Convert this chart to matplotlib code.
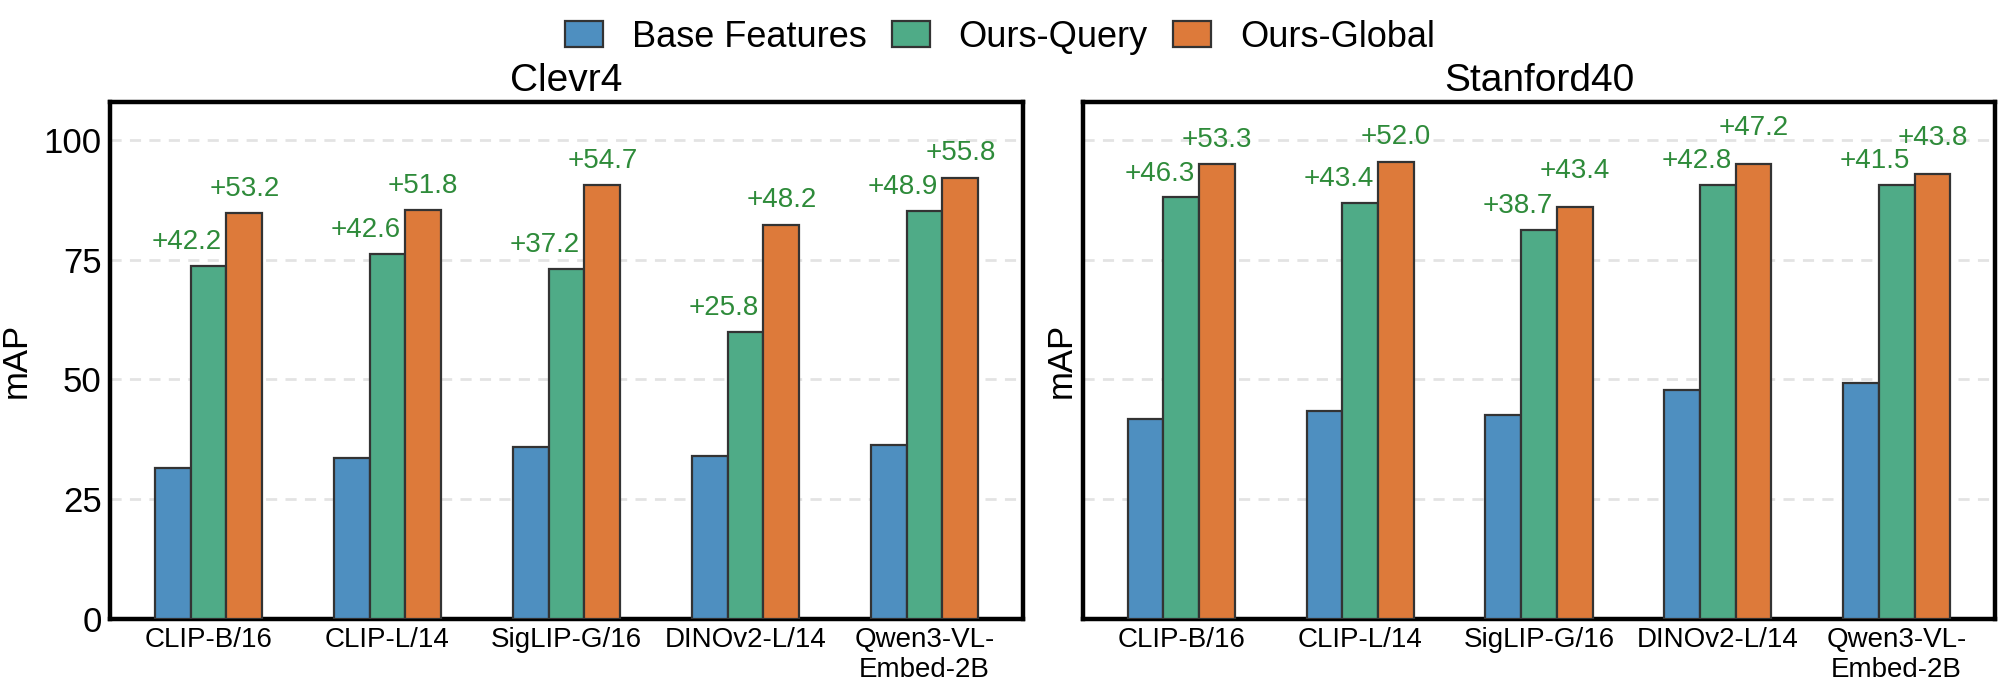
import matplotlib
matplotlib.use("Agg")
import matplotlib.pyplot as plt
import numpy as np

plt.rcParams['font.family'] = ['Liberation Sans', 'DejaVu Sans']

models = ["CLIP-B/16", "CLIP-L/14", "SigLIP-G/16", "DINOv2-L/14", "Qwen3-VL-\nEmbed-2B"]
series = ["Base Features", "Ours-Query", "Ours-Global"]
datasets = ["Clevr4", "Stanford40"]

clevr_base = [31.5, 33.6, 35.9, 34.1, 36.3]
clevr_query = [73.7, 76.2, 73.1, 59.9, 85.2]
clevr_global = [84.7, 85.4, 90.6, 82.3, 92.1]

stan_base = [41.7, 43.5, 42.6, 47.8, 49.2]
stan_query = [88.0, 86.9, 81.3, 90.6, 90.7]
stan_global = [95.0, 95.5, 86.0, 95.0, 93.0]

colors = ["#4e8fc0", "#4fab87", "#dd7a3a"]
annot_color = "#2e8b3a"

fig = plt.figure(figsize=(10, 3.44), dpi=200)
ax1 = fig.add_axes([0.055, 0.1003, 0.4565, 0.7519])
ax2 = fig.add_axes([0.5415, 0.1003, 0.456, 0.7519], sharey=ax1)

x = np.arange(len(models))
w = 0.2

all_data = [(clevr_base, clevr_query, clevr_global), (stan_base, stan_query, stan_global)]
handles = []
for ax, title, (b, q, g) in zip([ax1, ax2], datasets, all_data):
    for yv in [25, 50, 75, 100]:
        ax.axhline(yv, color="#e3e3e3", lw=1.0, ls=(0, (4, 3)), zorder=0)
    hs = []
    for i, (vals, c, lab) in enumerate(zip((b, q, g), colors, series)):
        h = ax.bar(x + (i - 1) * w, vals, width=w, color=c, edgecolor="#333333",
                   linewidth=0.8, label=lab, zorder=3)
        hs.append(h)
    handles = hs
    for k in range(len(models)):
        dq = q[k] - b[k]
        dg = g[k] - b[k]
        ax.text(x[k] - 0.12, q[k] + 5.0, f"+{dq:.1f}", ha="center", va="center",
                color=annot_color, fontsize=10, zorder=4)
        off = 7.5 if (g[k] - q[k]) < 6 else 5.1
        ax.text(x[k] + w, g[k] + off, f"+{dg:.1f}", ha="center", va="center",
                color=annot_color, fontsize=10, zorder=4)
    ax.set_xlim(-0.55, len(models) - 0.45)
    ax.set_ylim(0, 108)
    ax.set_xticks(x)
    ax.set_xticklabels(models, fontsize=10)
    ax.set_title(title, fontsize=14, pad=4)
    ax.set_ylabel("mAP", fontsize=12.5)
    ax.tick_params(axis="both", length=0, pad=3)
    for s in ax.spines.values():
        s.set_linewidth(1.6)
        s.set_color("black")

ax1.set_yticks([0, 25, 50, 75, 100])
ax1.tick_params(axis="y", labelsize=12.5, pad=3)
ax2.tick_params(axis="y", labelleft=False)
ax2.set_ylabel("mAP", fontsize=12.5, labelpad=2)

fig.legend(handles, series, loc="center", bbox_to_anchor=(0.5, 0.946), ncol=3,
           frameon=False, fontsize=13, handlelength=1.05, handleheight=0.75,
           handletextpad=0.8, columnspacing=0.7)

fig.savefig("out.png", dpi=200)
